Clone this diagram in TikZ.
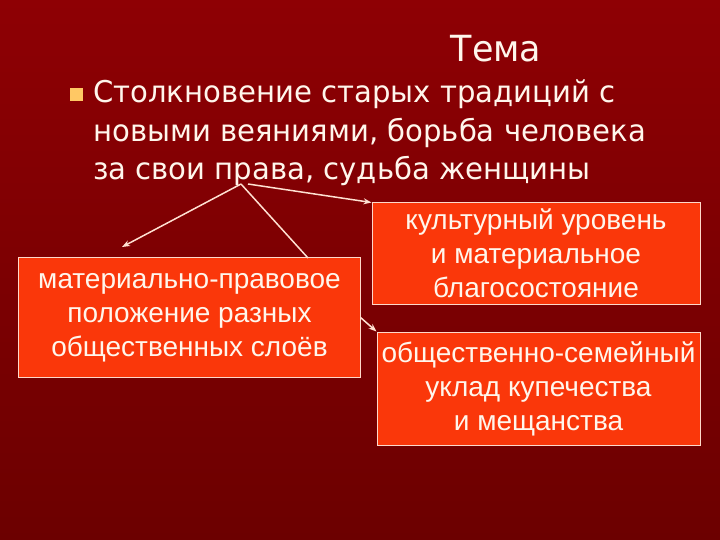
\documentclass[tikz,border=0pt]{standalone}
\usepackage{fontspec}
\setmainfont{Liberation Sans}
\newfontfamily\headfont[FakeStretch=0.97]{DejaVu Sans}
\usetikzlibrary{arrows.meta}
\definecolor{bgtop}{RGB}{142,0,4}
\definecolor{bgbot}{RGB}{108,0,0}
\definecolor{boxfill}{RGB}{250,55,10}
\definecolor{txt}{RGB}{255,246,236}
\definecolor{bulletcol}{RGB}{255,200,100}
\definecolor{arr}{RGB}{255,225,210}

\begin{document}
\begin{tikzpicture}[x=1bp, y=-1bp,
    topic/.style={draw=txt!85!boxfill, line width=1bp, fill=boxfill, text=txt,
      align=center, inner sep=0pt, font=\fontsize{28bp}{34bp}\selectfont},
    link/.style={draw=arr, line width=1.5bp}]
            % Define background
            \shade[top color=bgtop, bottom color=bgbot] (0,0) rectangle (720,540);
            \useasboundingbox (0,0) rectangle (720,540);

            % Define title and bullet text
            \node[text=txt, font=\headfont\fontsize{36bp}{44bp}\selectfont, anchor=base] (title) at (496,62) {Тема};
            \node[fill=bulletcol, minimum size=13bp, inner sep=0pt] (bullet) at (76,95) {};
            \node[text=txt, font=\headfont\fontsize{30bp}{38.5bp}\selectfont, align=left,
              anchor=north west, inner sep=0pt] (theme) at (93,80)
              {Столкновение старых традиций с\\новыми веяниями, борьба человека\\за свои права, судьба женщины};

            % Define boxes
            \node[topic, minimum width=341bp, minimum height=119bp] (matbox) at (189.5,317.5)
              {материально-правовое\\положение разных\\общественных слоёв};
            \node[topic, minimum width=328bp, minimum height=101bp] (culbox) at (536,253.5)
              {культурный уровень\\и материальное\\благосостояние};
            \node[topic, minimum width=323bp, minimum height=113bp] (fambox) at (538.5,388.5)
              {общественно-семейный\\уклад купечества\\и мещанства};

            % Define branch points
            \coordinate (src) at (241,184);
            \coordinate (srcr) at (248,184);
            \coordinate (tip) at (122,247);
            \coordinate (foot) at (308,258);

            % Draw edges with arrows
            \draw[link, -{Stealth[length=8bp, width=6bp]}] (src) -- (tip);
            \draw[link] (src) -- (foot);
            \draw[link, -{Stealth[length=8bp, width=6bp]}] (srcr) -- (culbox.north west);
            \draw[link, -{Stealth[length=8bp, width=6bp]}] (matbox.east) -- (fambox.north west);
        \end{tikzpicture}
\end{document}
